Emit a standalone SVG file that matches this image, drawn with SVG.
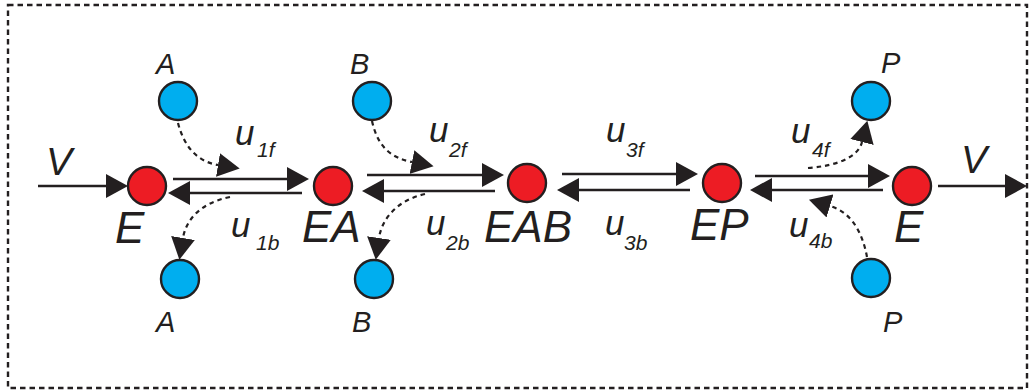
<svg xmlns="http://www.w3.org/2000/svg" width="1034" height="392" viewBox="0 0 1034 392">
<style>
.frame{fill:none;stroke:#231f20;stroke-width:2.4;stroke-dasharray:5.5 4}
.red{fill:#ed1c24;stroke:#231f20;stroke-width:2.4}
.blue{fill:#00aeef;stroke:#231f20;stroke-width:2.4}
.ln{fill:none;stroke:#231f20;stroke-width:2.4;marker-end:url(#ah)}
.dl{fill:none;stroke:#231f20;stroke-width:2.2;stroke-dasharray:4.5 4;marker-end:url(#ah)}
text{font-family:"Liberation Sans",Arial,sans-serif;font-style:italic;fill:#231f20}
.big{font-size:44px}
.sm{font-size:29px}
.v{font-size:39px}
.u{font-size:35px}
.sub{font-size:21px}
</style>
<defs>
<marker id="ah" markerUnits="userSpaceOnUse" viewBox="0 0 22 24" markerWidth="22" markerHeight="24" refX="0" refY="12" orient="auto">
<path d="M0,0 L22,12 L0,24 Z" fill="#231f20"/>
</marker>
</defs>
<rect class="frame" x="8" y="5" width="1019" height="383"/>
<g id="connectors">
<line class="ln" x1="38" y1="186" x2="106" y2="186"/>
<line class="ln" x1="173" y1="179" x2="287" y2="179"/>
<line class="ln" x1="302" y1="193" x2="190" y2="193"/>
<line class="ln" x1="367" y1="175" x2="482" y2="175"/>
<line class="ln" x1="495" y1="191" x2="384" y2="191"/>
<line class="ln" x1="562" y1="174" x2="676" y2="174"/>
<line class="ln" x1="690" y1="190" x2="579" y2="190"/>
<line class="ln" x1="755" y1="176" x2="868" y2="176"/>
<line class="ln" x1="883" y1="190" x2="772" y2="190"/>
<line class="ln" x1="938" y1="186" x2="1005" y2="186"/>
<path class="dl" d="M178,123 C185,150 200,162 218,165"/>
<path class="dl" d="M230,197 C200,203 186,220 183,238"/>
<path class="dl" d="M372,121 C378,148 392,158 412,162"/>
<path class="dl" d="M425,194 C398,200 382,218 379,238"/>
<path class="dl" d="M808,168 C835,166 858,158 862,142"/>
<path class="dl" d="M867,257 C862,230 850,212 830,206"/>
<text class="u" x="235" y="145">u<tspan class="sub" x="257" y="157">1f</tspan></text>
<text class="u" x="231" y="237">u<tspan class="sub" x="256" y="250">1b</tspan></text>
<text class="u" x="429" y="142">u<tspan class="sub" x="449" y="157">2f</tspan></text>
<text class="u" x="426" y="235">u<tspan class="sub" x="446" y="250">2b</tspan></text>
<text class="u" x="606" y="142">u<tspan class="sub" x="626" y="157">3f</tspan></text>
<text class="u" x="605" y="235">u<tspan class="sub" x="624" y="250">3b</tspan></text>
<text class="u" x="791" y="143">u<tspan class="sub" x="812" y="157">4f</tspan></text>
<text class="u" x="789" y="237">u<tspan class="sub" x="809" y="248">4b</tspan></text>
<text class="v" x="46" y="175">V</text>
<text class="v" x="961" y="173">V</text>
</g>
<g id="node-E1"><circle class="red" cx="147" cy="186" r="19"/><text class="big" x="115" y="243">E</text></g>
<g id="node-EA"><circle class="red" cx="333" cy="186" r="19"/><text class="big" x="302" y="242">EA</text></g>
<g id="node-EAB"><circle class="red" cx="527" cy="183" r="19"/><text class="big" x="484" y="242">EAB</text></g>
<g id="node-EP"><circle class="red" cx="722" cy="183" r="19"/><text class="big" x="690" y="240">EP</text></g>
<g id="node-E2"><circle class="red" cx="912" cy="186" r="19"/><text class="big" x="894" y="242">E</text></g>
<g id="node-A-top"><circle class="blue" cx="178" cy="101" r="19"/><text class="sm" x="156" y="74">A</text></g>
<g id="node-A-bottom"><circle class="blue" cx="180" cy="279" r="19"/><text class="sm" x="156" y="332">A</text></g>
<g id="node-B-top"><circle class="blue" cx="372" cy="101" r="19"/><text class="sm" x="350" y="74">B</text></g>
<g id="node-B-bottom"><circle class="blue" cx="374" cy="279" r="19"/><text class="sm" x="352" y="332">B</text></g>
<g id="node-P-top"><circle class="blue" cx="871" cy="101" r="19"/><text class="sm" x="881" y="73">P</text></g>
<g id="node-P-bottom"><circle class="blue" cx="871" cy="278" r="19"/><text class="sm" x="883" y="332">P</text></g>
</svg>
